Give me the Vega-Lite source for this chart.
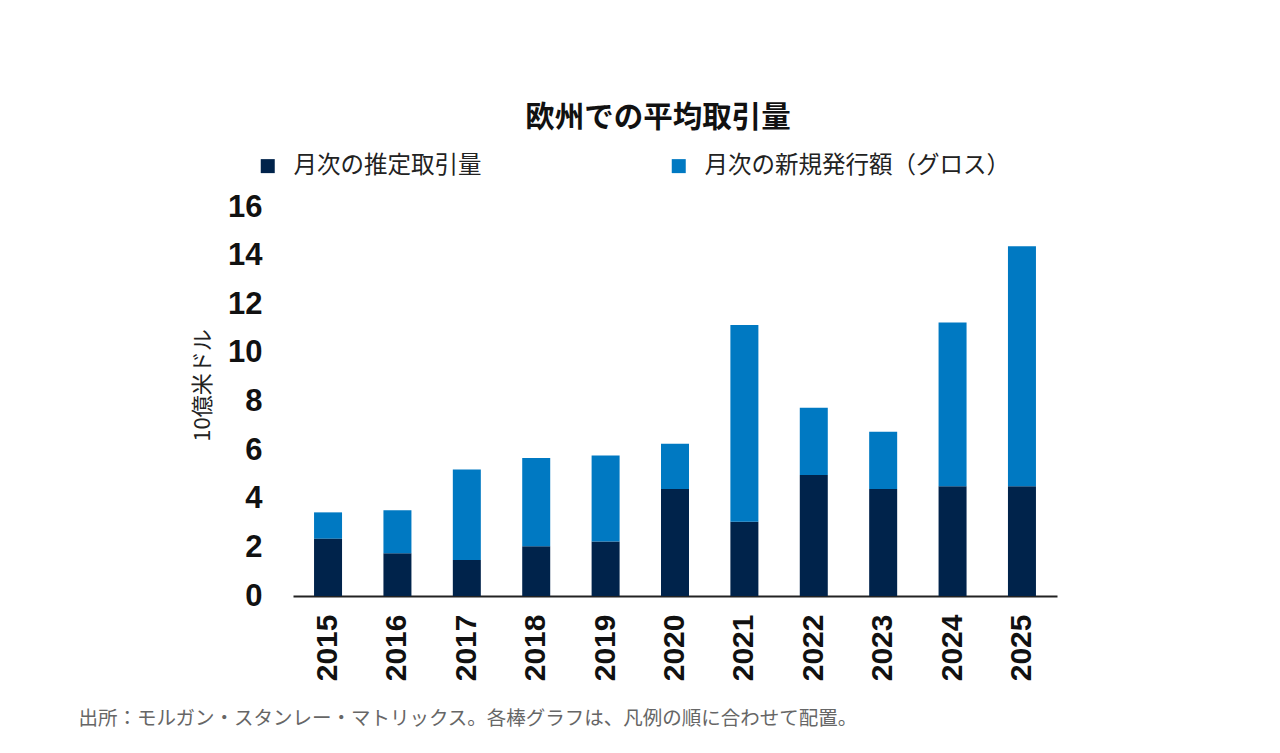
{
  "$schema": "https://vega.github.io/schema/vega-lite/v6.json",
  "autosize": "none",
  "width": 764,
  "height": 389,
  "padding": {"left": 293, "top": 207, "right": 223, "bottom": 157},
  "background": "white",
  "config": {"view": {"stroke": null}, "font": "Noto Sans CJK JP"},
  "title": {
    "text": "欧州での平均取引量",
    "font": "Noto Sans CJK JP",
    "fontSize": 29.5,
    "fontWeight": "bold",
    "color": "#111111",
    "anchor": "middle",
    "frame": "group",
    "dx": -17,
    "offset": 21
  },
  "data": {
    "values": [
      {"year": "2015", "series": "月次の推定取引量", "value": 2.36, "ord": 1},
      {"year": "2015", "series": "月次の新規発行額（グロス）", "value": 1.08, "ord": 2},
      {"year": "2016", "series": "月次の推定取引量", "value": 1.76, "ord": 1},
      {"year": "2016", "series": "月次の新規発行額（グロス）", "value": 1.77, "ord": 2},
      {"year": "2017", "series": "月次の推定取引量", "value": 1.48, "ord": 1},
      {"year": "2017", "series": "月次の新規発行額（グロス）", "value": 3.72, "ord": 2},
      {"year": "2018", "series": "月次の推定取引量", "value": 2.05, "ord": 1},
      {"year": "2018", "series": "月次の新規発行額（グロス）", "value": 3.63, "ord": 2},
      {"year": "2019", "series": "月次の推定取引量", "value": 2.24, "ord": 1},
      {"year": "2019", "series": "月次の新規発行額（グロス）", "value": 3.54, "ord": 2},
      {"year": "2020", "series": "月次の推定取引量", "value": 4.40, "ord": 1},
      {"year": "2020", "series": "月次の新規発行額（グロス）", "value": 1.86, "ord": 2},
      {"year": "2021", "series": "月次の推定取引量", "value": 3.05, "ord": 1},
      {"year": "2021", "series": "月次の新規発行額（グロス）", "value": 8.10, "ord": 2},
      {"year": "2022", "series": "月次の推定取引量", "value": 4.98, "ord": 1},
      {"year": "2022", "series": "月次の新規発行額（グロス）", "value": 2.76, "ord": 2},
      {"year": "2023", "series": "月次の推定取引量", "value": 4.40, "ord": 1},
      {"year": "2023", "series": "月次の新規発行額（グロス）", "value": 2.36, "ord": 2},
      {"year": "2024", "series": "月次の推定取引量", "value": 4.51, "ord": 1},
      {"year": "2024", "series": "月次の新規発行額（グロス）", "value": 6.74, "ord": 2},
      {"year": "2025", "series": "月次の推定取引量", "value": 4.51, "ord": 1},
      {"year": "2025", "series": "月次の新規発行額（グロス）", "value": 9.88, "ord": 2}
    ]
  },
  "mark": {"type": "bar", "size": 28},
  "encoding": {
    "x": {
      "field": "year",
      "type": "nominal",
      "sort": null,
      "scale": {"paddingInner": 0.59, "paddingOuter": 0.3},
      "axis": {
        "title": "出所：モルガン・スタンレー・マトリックス。各棒グラフは、凡例の順に合わせて配置。",
        "titleFont": "Noto Sans CJK JP",
        "titleFontSize": 19.5,
        "titleFontWeight": "normal",
        "titleColor": "#666666",
        "titleAnchor": "start",
        "titleAlign": "left",
        "titleBaseline": "middle",
        "titleX": -215,
        "titleY": 122,
        "labelAngle": 270,
        "labelAlign": "right",
        "labelBaseline": "middle",
        "labelFont": "Liberation Sans",
        "labelFontSize": 30,
        "labelFontWeight": "bold",
        "labelColor": "#111111",
        "labelPadding": 18,
        "ticks": false,
        "domainColor": "#222222",
        "domainWidth": 2
      }
    },
    "y": {
      "field": "value",
      "type": "quantitative",
      "stack": "zero",
      "scale": {"domain": [0, 16], "nice": false},
      "axis": {
        "title": "10億米ドル",
        "titleFont": "Noto Sans CJK JP",
        "titleFontSize": 22,
        "titleFontWeight": "normal",
        "titleColor": "#222222",
        "titlePadding": 13,
        "titleY": 178,
        "values": [0, 2, 4, 6, 8, 10, 12, 14, 16],
        "labelFont": "Liberation Sans",
        "labelFontSize": 31,
        "labelFontWeight": "bold",
        "labelColor": "#111111",
        "labelPadding": 31,
        "ticks": false,
        "domain": false,
        "grid": false
      }
    },
    "color": {
      "field": "series",
      "type": "nominal",
      "sort": ["月次の推定取引量", "月次の新規発行額（グロス）"],
      "scale": {
        "domain": ["月次の推定取引量", "月次の新規発行額（グロス）"],
        "range": ["#00234B", "#0079C2"]
      },
      "legend": {
        "title": null,
        "orient": "none",
        "direction": "horizontal",
        "legendX": -37,
        "legendY": -53,
        "symbolType": "square",
        "symbolSize": 196,
        "symbolStrokeWidth": 0,
        "labelFont": "Noto Sans CJK JP",
        "labelFontSize": 23.5,
        "labelColor": "#222222",
        "labelOffset": 14,
        "labelLimit": 400,
        "columnPadding": 185
      }
    },
    "order": {"field": "ord", "type": "quantitative"}
  }
}
